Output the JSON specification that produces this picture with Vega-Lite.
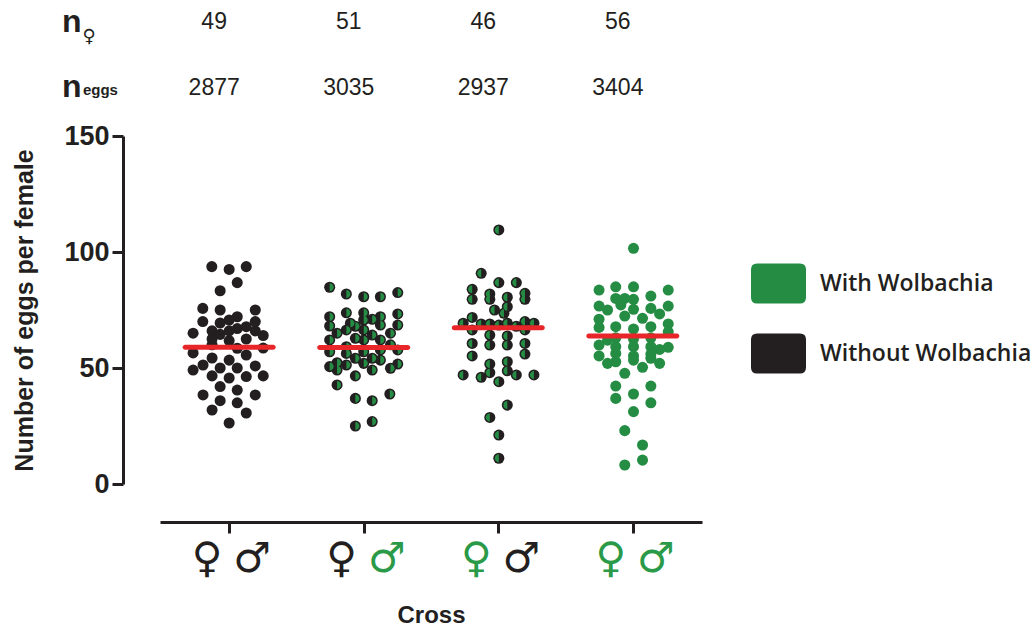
{
  "$schema": "https://vega.github.io/schema/vega-lite/v6.json",
  "width": 542,
  "height": 348,
  "autosize": {"type": "none"},
  "padding": {"left": 160, "top": 136, "right": 333, "bottom": 146},
  "background": "white",
  "config": {
    "view": {"stroke": null},
    "font": "Liberation Sans"
  },
  "datasets": {
    "crosses": [
      {"cross": 1, "female": "Without Wolbachia", "male": "Without Wolbachia", "nFemales": 49, "nEggs": 2877, "line": 58.9},
      {"cross": 2, "female": "Without Wolbachia", "male": "With Wolbachia", "nFemales": 51, "nEggs": 3035, "line": 58.8},
      {"cross": 3, "female": "With Wolbachia", "male": "Without Wolbachia", "nFemales": 46, "nEggs": 2937, "line": 67.4},
      {"cross": 4, "female": "With Wolbachia", "male": "With Wolbachia", "nFemales": 56, "nEggs": 3404, "line": 63.8}
    ],
    "dots": [
      {"cross":1,"pos":0.871,"eggs":93.7},{"cross":1,"pos":1.0,"eggs":92.5},{"cross":1,"pos":1.127,"eggs":93.7},{"cross":1,"pos":1.06,"eggs":86.8},{"cross":1,"pos":0.933,"eggs":83.3},{"cross":1,"pos":0.804,"eggs":75.7},{"cross":1,"pos":0.933,"eggs":75},{"cross":1,"pos":1.194,"eggs":75},{"cross":1,"pos":1.06,"eggs":72.1},{"cross":1,"pos":0.804,"eggs":70},{"cross":1,"pos":0.933,"eggs":69.4},{"cross":1,"pos":1.194,"eggs":70},{"cross":1,"pos":1.06,"eggs":67},{"cross":1,"pos":0.732,"eggs":65},{"cross":1,"pos":0.873,"eggs":66},{"cross":1,"pos":1.0,"eggs":66},{"cross":1,"pos":1.194,"eggs":66},{"cross":1,"pos":1.253,"eggs":64},{"cross":1,"pos":0.873,"eggs":62.5},{"cross":1,"pos":1.0,"eggs":61.8},{"cross":1,"pos":1.127,"eggs":62.5},{"cross":1,"pos":1.253,"eggs":58.6},{"cross":1,"pos":0.732,"eggs":56.5},{"cross":1,"pos":0.873,"eggs":54.3},{"cross":1,"pos":1.127,"eggs":55.6},{"cross":1,"pos":1.0,"eggs":53.4},{"cross":1,"pos":0.806,"eggs":51.3},{"cross":1,"pos":0.732,"eggs":49.1},{"cross":1,"pos":0.933,"eggs":50},{"cross":1,"pos":1.06,"eggs":50},{"cross":1,"pos":1.194,"eggs":50.9},{"cross":1,"pos":0.873,"eggs":46.6},{"cross":1,"pos":1.0,"eggs":45.7},{"cross":1,"pos":1.127,"eggs":46.3},{"cross":1,"pos":1.253,"eggs":46.6},{"cross":1,"pos":0.933,"eggs":42},{"cross":1,"pos":1.06,"eggs":40.5},{"cross":1,"pos":0.806,"eggs":38.4},{"cross":1,"pos":1.194,"eggs":38.4},{"cross":1,"pos":0.933,"eggs":35.9},{"cross":1,"pos":1.06,"eggs":35},{"cross":1,"pos":0.873,"eggs":31.9},{"cross":1,"pos":1.127,"eggs":30.6},{"cross":1,"pos":1.0,"eggs":26.3},{"cross":1,"pos":1.0,"eggs":70.7},{"cross":1,"pos":1.127,"eggs":67.8},{"cross":1,"pos":0.933,"eggs":64.5},{"cross":1,"pos":1.06,"eggs":58.5},{"cross":1,"pos":0.873,"eggs":60},
      {"cross":2,"pos":1.747,"eggs":84.8},{"cross":2,"pos":1.871,"eggs":81.9},{"cross":2,"pos":2.0,"eggs":80.7},{"cross":2,"pos":2.124,"eggs":80.7},{"cross":2,"pos":2.253,"eggs":82.5},{"cross":2,"pos":1.747,"eggs":72.1},{"cross":2,"pos":1.871,"eggs":73.8},{"cross":2,"pos":2.0,"eggs":73.8},{"cross":2,"pos":2.124,"eggs":72.1},{"cross":2,"pos":2.253,"eggs":73.3},{"cross":2,"pos":1.747,"eggs":68.1},{"cross":2,"pos":1.901,"eggs":69.3},{"cross":2,"pos":2.0,"eggs":70.7},{"cross":2,"pos":2.124,"eggs":68.5},{"cross":2,"pos":2.253,"eggs":68.5},{"cross":2,"pos":1.802,"eggs":65},{"cross":2,"pos":1.871,"eggs":66.4},{"cross":2,"pos":2.0,"eggs":66.4},{"cross":2,"pos":2.063,"eggs":64.2},{"cross":2,"pos":2.199,"eggs":65},{"cross":2,"pos":1.747,"eggs":62.1},{"cross":2,"pos":1.938,"eggs":62.8},{"cross":2,"pos":2.0,"eggs":62.1},{"cross":2,"pos":2.124,"eggs":62.1},{"cross":2,"pos":1.871,"eggs":59.2},{"cross":2,"pos":2.253,"eggs":57.8},{"cross":2,"pos":1.747,"eggs":57},{"cross":2,"pos":1.871,"eggs":56.3},{"cross":2,"pos":2.0,"eggs":57},{"cross":2,"pos":2.124,"eggs":57.8},{"cross":2,"pos":1.938,"eggs":54.2},{"cross":2,"pos":2.063,"eggs":54.2},{"cross":2,"pos":1.802,"eggs":52.3},{"cross":2,"pos":1.747,"eggs":50.6},{"cross":2,"pos":1.871,"eggs":51.3},{"cross":2,"pos":2.0,"eggs":52},{"cross":2,"pos":2.124,"eggs":53.4},{"cross":2,"pos":2.253,"eggs":51.7},{"cross":2,"pos":1.802,"eggs":49.1},{"cross":2,"pos":1.938,"eggs":46.6},{"cross":2,"pos":2.063,"eggs":49.1},{"cross":2,"pos":2.199,"eggs":49.9},{"cross":2,"pos":1.802,"eggs":42.7},{"cross":2,"pos":1.938,"eggs":36.9},{"cross":2,"pos":2.063,"eggs":35.9},{"cross":2,"pos":2.194,"eggs":38.8},{"cross":2,"pos":1.938,"eggs":25},{"cross":2,"pos":2.063,"eggs":26.9},{"cross":2,"pos":2.063,"eggs":71},{"cross":2,"pos":1.938,"eggs":68},{"cross":2,"pos":2.199,"eggs":60},
      {"cross":3,"pos":3.004,"eggs":109.5},{"cross":3,"pos":2.873,"eggs":90.8},{"cross":3,"pos":3.004,"eggs":86.8},{"cross":3,"pos":3.134,"eggs":86.8},{"cross":3,"pos":2.806,"eggs":83.9},{"cross":3,"pos":2.937,"eggs":81.9},{"cross":3,"pos":3.067,"eggs":80.5},{"cross":3,"pos":3.198,"eggs":82.2},{"cross":3,"pos":2.806,"eggs":79.6},{"cross":3,"pos":2.937,"eggs":79.6},{"cross":3,"pos":3.198,"eggs":79.6},{"cross":3,"pos":3.067,"eggs":76.4},{"cross":3,"pos":2.972,"eggs":75},{"cross":3,"pos":3.042,"eggs":73.6},{"cross":3,"pos":2.806,"eggs":71.8},{"cross":3,"pos":2.739,"eggs":69.3},{"cross":3,"pos":2.873,"eggs":69},{"cross":3,"pos":2.937,"eggs":69},{"cross":3,"pos":3.067,"eggs":69.3},{"cross":3,"pos":3.198,"eggs":70},{"cross":3,"pos":3.265,"eggs":69.3},{"cross":3,"pos":3.004,"eggs":68.5},{"cross":3,"pos":2.806,"eggs":66.4},{"cross":3,"pos":3.198,"eggs":66.4},{"cross":3,"pos":2.937,"eggs":64.2},{"cross":3,"pos":3.067,"eggs":63.8},{"cross":3,"pos":2.806,"eggs":60.6},{"cross":3,"pos":2.937,"eggs":59.9},{"cross":3,"pos":3.067,"eggs":59.9},{"cross":3,"pos":3.198,"eggs":60.6},{"cross":3,"pos":2.806,"eggs":55.2},{"cross":3,"pos":3.198,"eggs":56},{"cross":3,"pos":2.937,"eggs":51.7},{"cross":3,"pos":3.067,"eggs":52.7},{"cross":3,"pos":2.937,"eggs":48},{"cross":3,"pos":3.067,"eggs":48.8},{"cross":3,"pos":2.739,"eggs":47},{"cross":3,"pos":2.873,"eggs":46},{"cross":3,"pos":3.134,"eggs":47},{"cross":3,"pos":3.265,"eggs":47},{"cross":3,"pos":3.004,"eggs":44.1},{"cross":3,"pos":3.067,"eggs":34},{"cross":3,"pos":2.937,"eggs":28.7},{"cross":3,"pos":3.004,"eggs":21.1},{"cross":3,"pos":3.004,"eggs":11.1},{"cross":3,"pos":3.134,"eggs":68},
      {"cross":4,"pos":4.005,"eggs":101.6},{"cross":4,"pos":3.749,"eggs":83.6},{"cross":4,"pos":3.873,"eggs":85},{"cross":4,"pos":4.005,"eggs":85},{"cross":4,"pos":4.134,"eggs":81},{"cross":4,"pos":4.263,"eggs":83.6},{"cross":4,"pos":3.873,"eggs":80},{"cross":4,"pos":4.005,"eggs":79.6},{"cross":4,"pos":3.749,"eggs":76.7},{"cross":4,"pos":3.812,"eggs":75},{"cross":4,"pos":3.911,"eggs":77.2},{"cross":4,"pos":4.005,"eggs":75.3},{"cross":4,"pos":4.134,"eggs":75.7},{"cross":4,"pos":4.199,"eggs":73.3},{"cross":4,"pos":4.263,"eggs":76.7},{"cross":4,"pos":3.94,"eggs":72.4},{"cross":4,"pos":4.072,"eggs":71.4},{"cross":4,"pos":3.873,"eggs":67.8},{"cross":4,"pos":3.749,"eggs":67.5},{"cross":4,"pos":4.005,"eggs":66.8},{"cross":4,"pos":4.134,"eggs":67.8},{"cross":4,"pos":4.263,"eggs":69},{"cross":4,"pos":4.263,"eggs":65.6},{"cross":4,"pos":3.749,"eggs":59.9},{"cross":4,"pos":3.873,"eggs":59.2},{"cross":4,"pos":4.005,"eggs":59.2},{"cross":4,"pos":4.134,"eggs":59.2},{"cross":4,"pos":4.263,"eggs":58.9},{"cross":4,"pos":3.749,"eggs":55.2},{"cross":4,"pos":3.873,"eggs":56.3},{"cross":4,"pos":4.005,"eggs":55.2},{"cross":4,"pos":4.134,"eggs":56},{"cross":4,"pos":3.812,"eggs":52},{"cross":4,"pos":3.873,"eggs":52.7},{"cross":4,"pos":4.005,"eggs":53.4},{"cross":4,"pos":4.072,"eggs":50.3},{"cross":4,"pos":4.199,"eggs":52},{"cross":4,"pos":4.134,"eggs":54.2},{"cross":4,"pos":3.94,"eggs":47.7},{"cross":4,"pos":3.873,"eggs":42.2},{"cross":4,"pos":4.134,"eggs":42.2},{"cross":4,"pos":3.873,"eggs":36.9},{"cross":4,"pos":4.005,"eggs":38.8},{"cross":4,"pos":4.134,"eggs":35},{"cross":4,"pos":4.005,"eggs":31.2},{"cross":4,"pos":3.94,"eggs":23},{"cross":4,"pos":4.072,"eggs":16.8},{"cross":4,"pos":3.94,"eggs":8.2},{"cross":4,"pos":4.072,"eggs":10.3},{"cross":4,"pos":3.873,"eggs":63},{"cross":4,"pos":4.134,"eggs":63},{"cross":4,"pos":3.749,"eggs":71},{"cross":4,"pos":4.005,"eggs":62.5},{"cross":4,"pos":3.812,"eggs":62},{"cross":4,"pos":4.199,"eggs":58},{"cross":4,"pos":3.94,"eggs":80}
    ]
  },
  "layer": [
    {
      "data": {"name": "dots"},
      "transform": [{"lookup": "cross", "from": {"data": {"name": "crosses"}, "key": "cross", "fields": ["female", "male"]}}],
      "mark": {"type": "point", "filled": true, "size": 122, "opacity": 1},
      "encoding": {
        "x": {
          "field": "pos", "type": "quantitative",
          "scale": {"domain": [0.486, 4.514], "nice": false, "zero": false},
          "axis": {
            "title": "Cross", "labels": false, "values": [1, 2, 3, 4], "offset": 38, "grid": false,
            "domainWidth": 3, "domainColor": "#231f20", "tickWidth": 3, "tickSize": 11, "tickColor": "#231f20",
            "titleFont": "Liberation Sans", "titleFontSize": 24, "titleFontWeight": "bold", "titleColor": "#231f20", "titlePadding": 69
          }
        },
        "y": {
          "field": "eggs", "type": "quantitative",
          "scale": {"domain": [0, 150], "nice": false},
          "axis": {
            "title": "Number of eggs per female", "values": [0, 50, 100, 150], "offset": 37, "grid": false,
            "domainWidth": 3, "domainColor": "#231f20", "tickWidth": 3, "tickSize": 11, "tickColor": "#231f20",
            "labelFont": "Liberation Sans", "labelFontSize": 27, "labelFontWeight": "bold", "labelColor": "#231f20", "labelPadding": 3,
            "titleFont": "Liberation Sans", "titleFontSize": 25, "titleFontWeight": "bold", "titleColor": "#231f20", "titlePadding": 26
          }
        },
        "fill": {
          "condition": {"test": "datum.female !== datum.male", "value": "#231f20"},
          "field": "female", "type": "nominal",
          "scale": {"domain": ["With Wolbachia", "Without Wolbachia"], "range": ["#258d43", "#231f20"]},
          "legend": {
            "orient": "none",
            "legendX": 591,
            "legendY": 120,
            "title": null,
            "symbolType": "M-0.78,-0.727L0.78,-0.727Q1,-0.727,1,-0.507L1,0.507Q1,0.727,0.78,0.727L-0.78,0.727Q-1,0.727,-1,0.507L-1,-0.507Q-1,-0.727,-0.78,-0.727Z",
            "symbolSize": 3025,
            "symbolStrokeWidth": 0,
            "symbolOpacity": 1,
            "labelFont": "Open Sans",
            "labelFontSize": 23,
            "labelFontWeight": 600,
            "labelColor": "#231f20",
            "labelOffset": 14,
            "rowPadding": 22,
            "labelLimit": 400
          }
        }
      }
    },
    {
      "data": {"name": "dots"},
      "transform": [
        {"lookup": "cross", "from": {"data": {"name": "crosses"}, "key": "cross", "fields": ["female", "male"]}},
        {"filter": "datum.female === 'Without Wolbachia' && datum.male === 'With Wolbachia'"}
      ],
      "mark": {"type": "point", "filled": true, "size": 64, "color": "#258d43", "opacity": 1, "shape": "M0,-1A1,1,0,0,1,0,1Z"},
      "encoding": {
        "x": {"field": "pos", "type": "quantitative"},
        "y": {"field": "eggs", "type": "quantitative"}
      }
    },
    {
      "data": {"name": "dots"},
      "transform": [
        {"lookup": "cross", "from": {"data": {"name": "crosses"}, "key": "cross", "fields": ["female", "male"]}},
        {"filter": "datum.female === 'With Wolbachia' && datum.male === 'Without Wolbachia'"}
      ],
      "mark": {"type": "point", "filled": true, "size": 64, "color": "#258d43", "opacity": 1, "shape": "M0,-1A1,1,0,0,0,0,1Z"},
      "encoding": {
        "x": {"field": "pos", "type": "quantitative"},
        "y": {"field": "eggs", "type": "quantitative"}
      }
    },
    {
      "data": {"name": "crosses"},
      "mark": {"type": "tick", "orient": "horizontal", "size": 93, "thickness": 5, "color": "#e8262a", "cornerRadius": 2.5, "opacity": 1},
      "encoding": {
        "x": {"field": "cross", "type": "quantitative"},
        "y": {"field": "line", "type": "quantitative"}
      }
    },
    {
      "data": {"name": "crosses"},
      "mark": {"type": "text", "text": "♀", "font": "DejaVu Sans", "fontSize": 42, "dx": -22, "baseline": "middle", "align": "center"},
      "encoding": {
        "x": {"field": "cross", "type": "quantitative"},
        "y": {"datum": -32.3, "type": "quantitative"},
        "color": {"field": "female", "type": "nominal", "scale": {"domain": ["With Wolbachia", "Without Wolbachia"], "range": ["#2a9a48", "#231f20"]}, "legend": null}
      }
    },
    {
      "data": {"name": "crosses"},
      "mark": {"type": "text", "text": "♂", "font": "DejaVu Sans", "fontSize": 42, "dx": 23, "baseline": "middle", "align": "center"},
      "encoding": {
        "x": {"field": "cross", "type": "quantitative"},
        "y": {"datum": -32.3, "type": "quantitative"},
        "color": {"field": "male", "type": "nominal", "legend": null}
      }
    },
    {
      "data": {"name": "crosses"},
      "mark": {"type": "text", "font": "Liberation Sans", "fontSize": 23, "dx": -15, "baseline": "middle", "align": "center", "color": "#231f20"},
      "encoding": {
        "x": {"field": "cross", "type": "quantitative"},
        "y": {"datum": 199.1, "type": "quantitative"},
        "text": {"field": "nFemales", "type": "quantitative"}
      }
    },
    {
      "data": {"name": "crosses"},
      "mark": {"type": "text", "font": "Liberation Sans", "fontSize": 23, "dx": -15, "baseline": "middle", "align": "center", "color": "#231f20"},
      "encoding": {
        "x": {"field": "cross", "type": "quantitative"},
        "y": {"datum": 170.7, "type": "quantitative"},
        "text": {"field": "nEggs", "type": "quantitative", "format": "d"}
      }
    },
    {
      "data": {"values": [{"header": "n"}]},
      "mark": {"type": "text", "text": ["n", "n"], "lineHeight": 65, "font": "Liberation Sans", "fontSize": 32, "fontWeight": "bold", "baseline": "alphabetic", "align": "left", "color": "#231f20"},
      "encoding": {
        "x": {"datum": -0.243, "type": "quantitative"},
        "y": {"datum": 194.8, "type": "quantitative"}
      }
    },
    {
      "data": {"values": [{"header": "female"}]},
      "mark": {"type": "text", "text": "♀", "font": "DejaVu Sans", "fontSize": 18, "baseline": "alphabetic", "align": "left", "color": "#231f20"},
      "encoding": {
        "x": {"datum": -0.09, "type": "quantitative"},
        "y": {"datum": 190.5, "type": "quantitative"}
      }
    },
    {
      "data": {"values": [{"header": "eggs"}]},
      "mark": {"type": "text", "text": "eggs", "font": "Liberation Sans", "fontSize": 15, "fontWeight": "bold", "baseline": "alphabetic", "align": "left", "color": "#231f20"},
      "encoding": {
        "x": {"datum": -0.087, "type": "quantitative"},
        "y": {"datum": 167.6, "type": "quantitative"}
      }
    }
  ]
}
